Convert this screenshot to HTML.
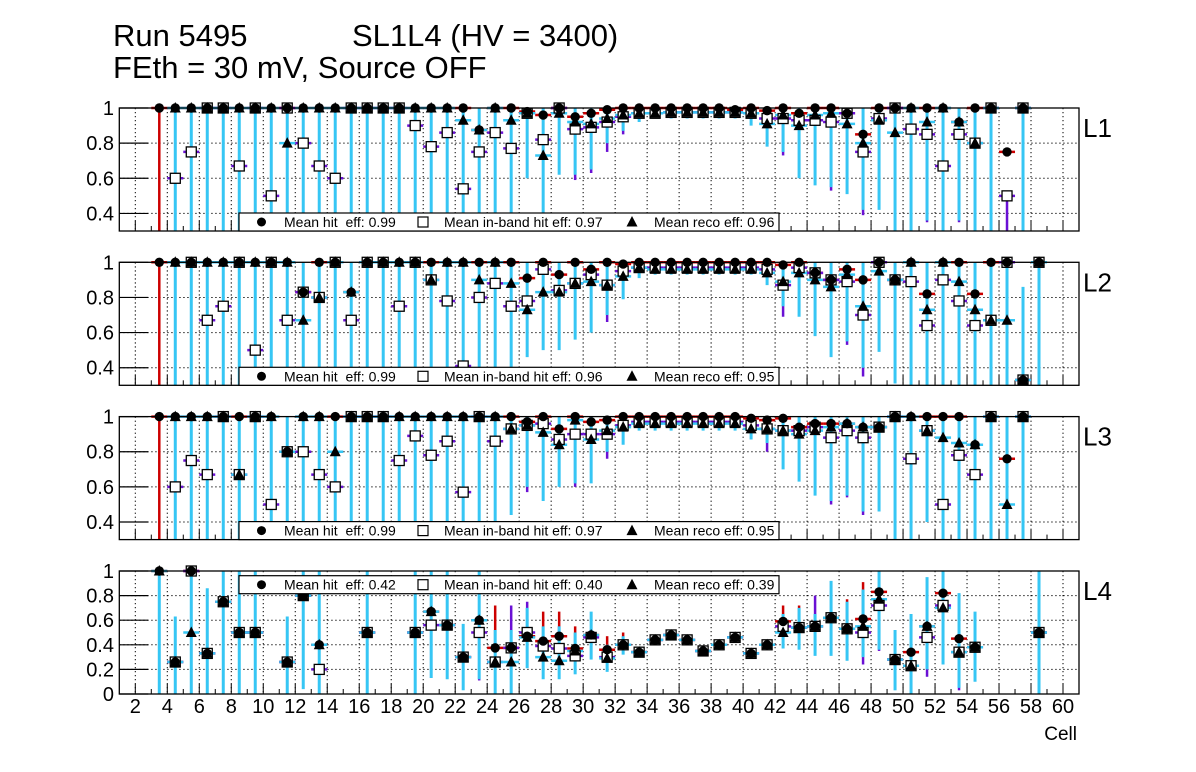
<!DOCTYPE html>
<html><head><meta charset="utf-8"><style>
html,body{margin:0;padding:0;background:#fff}
svg{display:block;font-family:"Liberation Sans",Arial,sans-serif}
</style></head><body>
<svg id="chart" width="1196" height="772" viewBox="0 0 1196 772">
<text x="113" y="46" font-size="31">Run 5495</text>
<text x="352" y="46" font-size="31">SL1L4 (HV = 3400)</text>
<text x="113" y="78" font-size="31">FEth = 30 mV, Source OFF</text>
<text x="1077" y="740" font-size="19" text-anchor="end">Cell</text>
</svg>
<script>
const n = null;
// cells 3..58
const cells = [3,4,5,6,7,8,9,10,11,12,13,14,15,16,17,18,19,20,21,22,23,24,25,26,27,28,29,30,31,32,33,34,35,36,37,38,39,40,41,42,43,44,45,46,47,48,49,50,51,52,53,54,55,56,57,58];
const panelLabels = ["L1","L2","L3","L4"];
const legendHit = ["0.99","0.99","0.99","0.42"];
const legendInb = ["0.97","0.96","0.97","0.40"];
const legendReco = ["0.96","0.95","0.95","0.39"];
const xTicks = [2,4,6,8,10,12,14,16,18,20,22,24,26,28,30,32,34,36,38,40,42,44,46,48,50,52,54,56,58,60];
const yTicksTop = [0.4,0.6,0.8,1];
const yTickLabelsTop = ["0.4","0.6","0.8","1"];
const yTicksBottom = [0,0.2,0.4,0.6,0.8,1];
const yTickLabelsBottom = ["0","0.2","0.4","0.6","0.8","1"];

// ---- L1 ----
const l1Hit  = [1,1,1,1,1,1,1,1,1,1,1,1,1,1,1,1,1,1,1,1,0.875,1,1,0.98,0.96,1,0.95,0.97,0.99,1,1,1,1,1,1,1,0.99,1,0.985,1,0.97,1,1,0.97,0.85,1,1,1,1,1,0.92,1,1,0.75,1,n];
const l1Inb  = [n,0.6,0.75,1,1,0.67,1,0.5,1,0.8,0.67,0.6,1,1,1,1,0.9,0.78,0.86,0.54,0.75,0.86,0.77,0.97,0.82,1,0.88,0.89,0.92,0.95,0.97,0.97,0.975,0.975,0.975,0.975,0.975,0.97,0.94,0.94,0.93,0.93,0.92,0.97,0.75,0.94,1,0.88,0.85,0.67,0.85,0.8,1,0.5,1,n];
const l1Reco = [n,1,1,1,1,1,1,1,0.8,1,1,1,1,1,1,1,1,1,1,0.93,0.875,1,0.93,0.97,0.73,0.97,0.92,0.91,0.94,0.96,0.97,0.97,0.975,0.975,0.975,0.975,0.975,0.97,0.91,0.96,0.9,0.96,0.97,0.91,0.8,0.93,0.86,1,0.92,1,0.92,0.8,1,n,1,n];
const l1RecoLo = [n,0.3,0.3,0.3,0.3,0.3,0.3,0.3,0.3,0.3,0.3,0.3,0.3,0.3,0.3,0.3,0.3,0.3,0.3,0.3,0.3,0.3,0.3,0.6,0.3,0.62,0.62,0.65,0.8,0.87,0.92,0.94,0.94,0.94,0.94,0.94,0.94,0.9,0.78,0.75,0.6,0.56,0.55,0.51,0.42,0.42,0.3,0.3,0.36,0.3,0.36,0.3,0.3,n,0.3,n];
const l1HitLo = [0.3,n,n,n,n,n,n,n,n,n,n,n,n,n,n,n,n,n,n,n,n,n,n,n,n,n,n,n,n,n,n,n,n,n,n,n,n,n,n,n,n,n,n,n,n,n,n,n,n,n,n,n,n,n,n,n];
const l1InbLo = [n,n,n,n,n,n,n,n,n,n,n,n,n,n,n,n,n,n,n,n,n,n,n,n,n,n,0.59,0.63,0.75,0.85,n,n,n,n,n,n,n,n,n,0.73,n,n,0.53,n,0.39,n,n,n,0.35,n,0.35,n,n,0.3,n,n];

// ---- L2 ----
const l2Hit  = [1,1,1,1,1,1,1,1,1,0.83,1,1,0.83,1,1,1,1,1,1,1,1,1,1,0.91,1,0.93,1,0.96,1,0.99,1,1,1,1,1,1,1,1,1,0.985,1,0.94,0.9,0.96,0.9,1,0.9,1,0.82,1,1,0.82,1,1,0.33,1];
const l2Inb  = [n,n,1,0.67,0.75,1,0.5,1,0.67,0.83,0.8,1,0.67,1,1,0.75,1,0.9,0.78,0.41,0.8,0.88,0.75,0.78,0.96,0.84,0.88,0.93,0.87,0.95,0.97,0.97,0.97,0.97,0.97,0.97,0.97,0.97,0.96,0.87,0.97,0.94,0.9,0.89,0.7,1,0.9,0.89,0.64,0.9,0.78,0.64,0.67,1,0.33,1];
const l2Reco = [n,1,1,1,1,1,1,1,1,0.67,0.8,1,0.83,1,1,1,1,0.9,1,1,0.9,1,0.88,0.73,0.83,0.83,0.88,0.89,0.87,0.92,0.97,0.96,0.96,0.96,0.96,0.96,0.96,0.96,0.94,0.89,0.94,0.9,0.86,0.93,0.75,0.95,0.9,1,0.73,1,0.89,0.73,0.67,0.67,0.33,1];
const l2RecoLo = [n,0.3,0.3,0.3,0.3,0.3,0.3,0.3,0.3,0.3,0.3,0.3,0.3,0.3,0.3,0.3,0.3,0.3,0.3,0.3,0.3,0.3,0.3,0.46,0.5,0.5,0.56,0.6,0.7,0.79,0.91,0.93,0.93,0.93,0.93,0.93,0.93,0.93,0.87,0.75,0.69,0.58,0.46,0.55,0.4,0.49,0.31,0.3,0.3,0.3,0.3,0.3,0.3,0.3,0.3,0.3];
const l2RecoHi = [n,n,n,n,n,n,n,n,n,n,n,n,n,n,n,n,n,n,n,n,n,n,n,n,n,n,n,n,n,n,n,n,n,n,n,n,n,n,n,n,n,n,n,n,n,n,n,n,n,n,n,n,n,n,0.86,n];
const l2HitLo = [0.3,n,n,n,n,n,n,n,n,n,n,n,n,n,n,n,n,n,n,n,n,n,n,n,n,n,n,n,n,n,n,n,n,n,n,n,n,n,n,n,n,n,n,n,n,n,n,n,n,n,n,n,n,n,n,n];
const l2InbLo = [n,n,n,n,n,n,n,n,n,n,n,n,n,n,n,n,n,n,n,n,n,n,n,n,n,n,n,n,0.66,n,n,n,n,n,n,n,n,n,n,0.69,n,n,n,0.53,0.35,n,n,n,n,0.3,n,n,n,n,n,n];

// ---- L3 ----
const l3Hit  = [1,1,1,1,1,1,1,1,0.8,1,1,1,1,1,1,1,1,1,1,1,1,1,1,0.97,1,0.93,1,0.97,0.98,1,1,1,1,1,1,1,1,0.99,0.98,0.99,0.94,0.96,0.96,0.96,0.94,0.94,1,1,1,1,1,0.84,1,0.76,1,n];
const l3Inb  = [n,0.6,0.75,0.67,1,0.67,1,0.5,0.8,0.8,0.67,0.6,1,1,1,0.75,0.89,0.78,0.86,0.57,1,0.86,0.93,0.95,0.96,0.87,0.9,0.9,0.9,0.95,0.97,0.97,0.97,0.97,0.97,0.97,0.97,0.95,0.93,0.92,0.92,0.94,0.88,0.92,0.88,0.94,1,0.76,0.92,0.5,0.78,0.67,1,n,1,n];
const l3Reco = [n,1,1,1,1,0.67,1,1,0.8,1,1,0.8,1,1,1,1,1,1,1,1,1,1,0.93,0.95,0.91,0.84,0.98,0.87,0.92,0.94,0.96,0.96,0.96,0.96,0.96,0.96,0.96,0.93,0.93,0.92,0.9,0.92,0.94,0.96,0.94,0.94,1,1,0.92,0.88,0.85,0.84,1,0.5,1,n];
const l3RecoLo = [n,0.3,0.3,0.3,0.3,0.3,0.3,0.3,0.3,0.3,0.3,0.3,0.3,0.3,0.3,0.3,0.3,0.3,0.3,0.3,0.3,0.3,0.44,0.6,0.52,0.6,0.62,0.62,0.8,0.84,0.92,0.92,0.92,0.92,0.92,0.92,0.92,0.87,0.85,0.7,0.63,0.55,0.52,0.55,0.46,0.46,0.3,0.3,0.4,0.3,0.3,0.3,0.3,0.3,0.3,n];
const l3HitLo = [0.3,n,n,n,n,n,n,n,n,n,n,n,n,n,n,n,n,n,n,n,n,n,n,n,n,n,n,n,n,n,n,n,n,n,n,n,n,n,n,n,n,n,n,n,n,n,n,n,n,n,n,n,n,n,n,n];
const l3InbLo = [n,n,n,n,n,n,n,n,n,n,n,n,n,n,n,n,n,n,n,0.4,n,n,n,0.57,n,n,0.6,n,0.76,n,n,n,n,n,n,n,n,n,0.8,n,n,n,0.5,0.54,0.44,n,n,n,n,n,0.3,n,n,n,n,n];

// ---- L4 ----
const l4Hit  = [1,0.26,1,0.33,0.75,0.5,0.5,n,0.26,0.8,0.4,n,n,0.5,n,n,0.5,0.67,0.56,0.3,0.6,0.375,0.375,0.47,0.43,0.47,0.37,0.48,0.36,0.4,0.34,0.44,0.48,0.44,0.35,0.4,0.46,0.33,0.4,0.59,0.54,0.55,0.62,0.53,0.61,0.83,0.28,0.34,0.55,0.82,0.45,0.38,n,n,n,0.5];
const l4Inb  = [n,0.26,1,0.33,0.75,0.5,0.5,n,0.26,0.8,0.2,n,n,0.5,n,n,0.5,0.56,0.56,0.3,0.5,0.26,0.375,0.5,0.39,0.37,0.31,0.46,0.3,0.4,0.34,0.44,0.48,0.44,0.35,0.4,0.46,0.33,0.4,0.55,0.54,0.55,0.62,0.53,0.5,0.72,0.28,0.23,0.46,0.72,0.34,0.38,n,n,n,0.5];
const l4Reco = [1,0.26,0.5,0.33,0.75,0.5,0.5,n,0.26,0.8,0.4,n,n,0.5,n,n,0.5,0.67,0.56,0.3,0.6,0.26,0.26,0.46,0.3,0.27,0.35,0.48,0.29,0.4,0.34,0.44,0.48,0.44,0.35,0.4,0.46,0.33,0.4,0.5,0.54,0.55,0.62,0.53,0.55,0.77,0.28,0.23,0.55,0.7,0.34,0.38,n,n,n,0.5];
const l4RecoLo = [0,0,0,0,0,0,0,n,0,0.04,0,n,n,0,n,n,0,0.13,0.12,0.03,0.12,0,0,0.21,0.12,0.12,0.16,0.28,0.18,0.32,0.3,0.4,0.44,0.4,0.31,0.36,0.42,0.29,0.36,0.37,0.36,0.31,0.31,0.27,0.3,0.36,0.03,0,0.2,0.24,0.05,0.1,n,n,n,0];
const l4RecoHi = [1,0.63,1,0.86,1,1,1,n,0.63,1,1,n,n,1,n,n,1,1,1,0.57,1,0.52,0.52,0.7,0.55,0.55,0.5,0.67,0.4,0.47,0.38,0.48,0.52,0.48,0.39,0.44,0.5,0.37,0.44,0.65,0.7,0.65,0.92,0.75,0.85,1,0.52,0.65,0.95,1,0.82,0.67,n,n,n,1];
const l4HitHi = [n,n,n,n,n,n,n,n,n,n,n,n,n,n,n,n,n,n,n,n,n,0.72,n,n,0.67,0.67,0.55,n,0.47,0.5,n,n,n,n,n,n,n,n,n,0.72,0.72,n,n,0.77,0.91,n,n,n,n,n,n,n,n,n,n,n];
const l4InbLo = [n,n,n,n,n,n,n,n,n,n,n,n,n,n,n,n,n,0.13,n,n,0.11,n,n,n,n,n,n,n,n,n,n,n,n,n,n,n,n,n,n,n,n,n,n,n,0.24,0.35,n,n,0.14,n,0.03,n,n,n,n,n];
const l4InbHi = [n,n,n,n,n,n,n,n,n,n,n,n,n,n,n,n,n,n,n,n,n,n,0.72,0.75,n,0.55,n,n,n,n,n,n,n,n,n,n,n,n,n,n,n,0.8,n,n,n,n,n,n,n,n,n,n,n,n,n,n];

const panels = [
 {top:108, bot:231, ymin:0.3, ymax:1, hit:l1Hit, inb:l1Inb, reco:l1Reco, rLo:l1RecoLo, rHi:null, hLo:l1HitLo, hHi:null, iLo:l1InbLo, iHi:null, legTop:213, yt:yTicksTop, yl:yTickLabelsTop},
 {top:262.3, bot:385.3, ymin:0.3, ymax:1, hit:l2Hit, inb:l2Inb, reco:l2Reco, rLo:l2RecoLo, rHi:l2RecoHi, hLo:l2HitLo, hHi:null, iLo:l2InbLo, iHi:null, legTop:367.3, yt:yTicksTop, yl:yTickLabelsTop},
 {top:416.6, bot:539.6, ymin:0.3, ymax:1, hit:l3Hit, inb:l3Inb, reco:l3Reco, rLo:l3RecoLo, rHi:null, hLo:l3HitLo, hHi:null, iLo:l3InbLo, iHi:null, legTop:521.6, yt:yTicksTop, yl:yTickLabelsTop},
 {top:571, bot:694, ymin:0, ymax:1, hit:l4Hit, inb:l4Inb, reco:l4Reco, rLo:l4RecoLo, rHi:l4RecoHi, hLo:null, hHi:l4HitHi, iLo:l4InbLo, iHi:l4InbHi, legTop:575.7, yt:yTicksBottom, yl:yTickLabelsBottom}
];

const NS = "http://www.w3.org/2000/svg";
const svg = document.getElementById('chart');
const X0 = 119.3, X1 = 1079, XMIN = 1, XMAX = 61;
function xs(v){ return X0 + (v - XMIN) / (XMAX - XMIN) * (X1 - X0); }
function mk(tag, attrs, parent){ const e = document.createElementNS(NS, tag); for (const k in attrs) e.setAttribute(k, attrs[k]); (parent||svg).appendChild(e); return e; }
const CY = "#36c6f4", PU = "#6a10d4", RE = "#cc0000";

panels.forEach((p, pi) => {
  const ys = v => p.bot - (v - p.ymin) / (p.ymax - p.ymin) * (p.bot - p.top);
  const g = mk('g', {});
  
  
  xTicks.forEach(t => {
    const l = mk('line', {x1:xs(t), x2:xs(t), y1:p.top, y2:p.bot, stroke:'#000', 'stroke-width':1, 'stroke-dasharray':'1.3,2.7'}, g);
    
    
  });
  p.yt.forEach((t, i) => {
    if (t > p.ymin && t < p.ymax) {
      const l = mk('line', {x1:X0, x2:X1, y1:ys(t), y2:ys(t), stroke:'#000', 'stroke-width':1, 'stroke-dasharray':'1.3,2.7'}, g);
      
      
    }
    const tk = mk('line', {x1:X0, x2:X0 + 29, y1:ys(t), y2:ys(t), stroke:'#000', 'stroke-width':1.2}, g);
    
    
    const lb = mk('text', {x:114, y:ys(t) + 7, 'font-size':20, 'text-anchor':'end'}, g);
    lb.textContent = p.yl[i];
    
    
  });
  for (let c = 2; c <= 60; c++) {
    const len = (c % 2 === 0) ? 10 : 5;
    const tk = mk('line', {x1:xs(c), x2:xs(c), y1:p.bot, y2:p.bot - len, stroke:'#000', 'stroke-width':1}, g);
    
    
  }
  if (pi === 3) {
    xTicks.forEach(t => {
      const lb = mk('text', {x:xs(t), y:713, 'font-size':20, 'text-anchor':'middle'}, g);
      lb.textContent = String(t);
      
      
    });
  }
  const clip = 'clip' + pi;
  const cp = mk('clipPath', {id:clip}, g);
  mk('rect', {x:X0, y:p.top - 8, width:X1 - X0, height:p.bot - p.top + 8}, cp);
  const dg = mk('g', {'clip-path':'url(#' + clip + ')'}, g);
  function bar(v, lo, hi, ci, color, w, name) {
    const x = xs(ci + 0.5);
    const h = mk('line', {x1:xs(ci), x2:xs(ci + 1), y1:ys(v), y2:ys(v), stroke:color, 'stroke-width':2.5}, dg);
    
    
    if (lo !== v || hi !== v) {
      const l = mk('line', {x1:x, x2:x, y1:ys(Math.max(lo, p.ymin - 0.02)), y2:ys(hi), stroke:color, 'stroke-width':w}, dg);
      
      
    }
  }
  cells.forEach((c, i) => {
    const v = p.hit[i]; if (v === null) return;
    const lo = (p.hLo && p.hLo[i] !== null) ? p.hLo[i] : v;
    const hi = (p.hHi && p.hHi[i] !== null) ? p.hHi[i] : v;
    bar(v, lo, hi, c, RE, 2.5, 'hit');
  });
  cells.forEach((c, i) => {
    const v = p.inb[i]; if (v === null) return;
    const lo = (p.iLo && p.iLo[i] !== null) ? p.iLo[i] : v;
    const hi = (p.iHi && p.iHi[i] !== null) ? p.iHi[i] : v;
    bar(v, lo, hi, c, PU, 2.5, 'inband');
  });
  cells.forEach((c, i) => {
    const v = p.reco[i]; if (v === null) return;
    const lo = (p.rLo[i] !== null) ? p.rLo[i] : v;
    let hi;
    if (p.rHi && p.rHi[i] !== null) hi = p.rHi[i]; else hi = (pi < 3 ? 1 : v);
    bar(v, lo, hi, c, CY, 3, 'reco');
  });
  cells.forEach((c, i) => {
    const v = p.inb[i]; if (v === null) return;
    const s = mk('rect', {x:xs(c + 0.5) - 5, y:ys(v) - 5, width:10, height:10, fill:'#fff', stroke:'#000', 'stroke-width':1.3}, dg);
    
    
  });
  cells.forEach((c, i) => {
    const v = p.hit[i]; if (v === null) return;
    const m = mk('circle', {cx:xs(c + 0.5), cy:ys(v), r:4.7, fill:'#000'}, dg);
    
    
  });
  cells.forEach((c, i) => {
    const v = p.reco[i]; if (v === null) return;
    const x = xs(c + 0.5), y = ys(v);
    const t = mk('polygon', {points:(x - 5.5) + ',' + (y + 4.5) + ' ' + (x + 5.5) + ',' + (y + 4.5) + ' ' + x + ',' + (y - 6), fill:'#000'}, dg);
    
    
  });
  const fr = mk('rect', {x:X0, y:p.top, width:X1 - X0, height:p.bot - p.top, fill:'none', stroke:'#000', 'stroke-width':1.3}, g);
  
  
  const lg = mk('g', {}, g);
  
  
  const lt = p.legTop, lh = 18, cy = lt + lh / 2;
  mk('rect', {x:239, y:lt, width:540, height:lh, fill:'#fff', stroke:'#000', 'stroke-width':1.2}, lg);
  const c1 = mk('circle', {cx:261.5, cy:cy, r:4.5, fill:'#000'}, lg);
  
  
  const t1 = mk('text', {x:284, y:cy + 5, 'font-size':14}, lg);
  t1.textContent = 'Mean hit\u00a0 eff: ' + legendHit[pi];
  
  
  const s1 = mk('rect', {x:418, y:cy - 5, width:10, height:10, fill:'#fff', stroke:'#000', 'stroke-width':1.2}, lg);
  
  
  const t2 = mk('text', {x:444, y:cy + 5, 'font-size':14}, lg);
  t2.textContent = 'Mean in-band hit eff: ' + legendInb[pi];
  
  
  const tr = mk('polygon', {points:'626.5,' + (cy + 4.5) + ' 637.5,' + (cy + 4.5) + ' 632,' + (cy - 6), fill:'#000'}, lg);
  
  
  const t3 = mk('text', {x:654, y:cy + 5, 'font-size':14}, lg);
  t3.textContent = 'Mean reco eff: ' + legendReco[pi];
  
  
  const pl = mk('text', {x:1083, y:p.top + 29, 'font-size':26}, g);
  pl.textContent = panelLabels[pi];
  
  
});
</script>
</body></html>
